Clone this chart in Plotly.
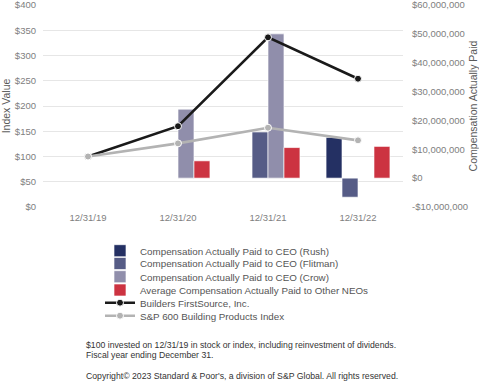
import plotly.graph_objects as go

categories = ["12/31/19", "12/31/20", "12/31/21", "12/31/22"]

cap_rush = [None, None, None, 14.1e6]
cap_flitman = [None, None, 16.0e6, -6.6e6]
cap_crow = [None, 23.9e6, 50.0e6, None]
cap_other_neos = [None, 6.0e6, 10.6e6, 11.0e6]

bldr_index = [100, 160, 336, 254]
sp600_index = [100, 126, 157, 132]

index_tickvals = [0, 50, 100, 150, 200, 250, 300, 350, 400]
index_ticktext = ["$0", "$50", "$100", "$150", "$200", "$250", "$300", "$350", "$400"]
cap_tickvals = [-10e6, 0, 10e6, 20e6, 30e6, 40e6, 50e6, 60e6]
cap_ticktext = ["-$10,000,000", "$0", "$10,000,000", "$20,000,000",
                "$30,000,000", "$40,000,000", "$50,000,000", "$60,000,000"]

bar_names = ["Compensation Actually Paid to CEO (Rush)",
             "Compensation Actually Paid to CEO (Flitman)",
             "Compensation Actually Paid to CEO (Crow)",
             "Average Compensation Actually Paid to Other NEOs"]
bar_values = [cap_rush, cap_flitman, cap_crow, cap_other_neos]
bar_colors = ["#243063", "#565c86", "#908eab", "#cc3341"]

line_names = ["Builders FirstSource, Inc.", "S&P 600 Building Products Index"]
line_values = [bldr_index, sp600_index]
line_colors = ["#1a1a1a", "#b3b3b3"]

footnotes = ["$100 invested on 12/31/19 in stock or index, including reinvestment of dividends.",
             "Fiscal year ending December 31.",
             "Copyright\u00a9 2023 Standard & Poor's, a division of S&P Global. All rights reserved."]

FONT = "Liberation Sans, Arial, sans-serif"
W, H = 479, 381
ML, MR, MT, MB = 43, 76, 5, 174
PW, PH = W - ML - MR, H - MT - MB


def px_x(p):
    return (p - ML) / PW


def px_y(p):
    return (H - MB - p) / PH


fig = go.Figure()
legend_ids = ["legend", "legend2", "legend3", "legend4", "legend5", "legend6"]

for i, (name, vals, col) in enumerate(zip(bar_names, bar_values, bar_colors)):
    fig.add_trace(go.Bar(
        x=categories, y=vals, name=name, yaxis="y",
        marker=dict(color=col, line=dict(color="rgba(255,255,255,0.8)", width=0.8)),
        legend=legend_ids[i], showlegend=True,
    ))

for j, (name, vals, col) in enumerate(zip(line_names, line_values, line_colors)):
    fig.add_trace(go.Scatter(
        x=categories, y=vals, name=name, yaxis="y2", mode="lines+markers",
        line=dict(color=col, width=2.6),
        marker=dict(color=col, size=7, line=dict(color="white", width=1)),
        legend=legend_ids[4 + j], showlegend=True,
    ))

legend_rows_y = [250.7, 263.5, 276.7, 290, 302.7, 315.7]
layout_legends = {}
for k, lid in enumerate(legend_ids):
    layout_legends[lid] = dict(
        x=px_x(100), y=px_y(legend_rows_y[k]),
        xanchor="left", yanchor="middle",
        bgcolor="rgba(0,0,0,0)", borderwidth=0,
        font=dict(family=FONT, size=9.8, color="#555555"),
        itemwidth=30,
    )

annotations = []
foot_y = [345, 355, 376]
for txt, py in zip(footnotes, foot_y):
    annotations.append(dict(
        xref="paper", yref="paper",
        x=px_x(84), y=px_y(py),
        xanchor="left", yanchor="middle", showarrow=False, text=txt,
        font=dict(family=FONT, size=8.7, color="#333333"),
    ))

fig.update_layout(
    width=W, height=H,
    showlegend=True,
    margin=dict(l=ML, r=MR, t=MT, b=MB, autoexpand=False),
    paper_bgcolor="white", plot_bgcolor="white",
    barmode="group", bargap=0.29, bargroupgap=0,
    font=dict(family=FONT, size=9.5, color="#808080"),
    xaxis=dict(type="category", range=[-0.5, 3.5], showgrid=False, zeroline=False,
               showline=False, ticks="", automargin=False, ticklabelstandoff=3,
               tickfont=dict(size=9.5, color="#808080")),
    yaxis=dict(side="right", range=[-10e6, 60e6], tickvals=cap_tickvals, ticktext=cap_ticktext,
               showgrid=False, zeroline=False, showline=False, ticks="", automargin=False,
               ticklabeloverflow="allow", ticklabelstandoff=8,
               tickfont=dict(size=9.5, color="#808080"),
               title=dict(text="Compensation Actually Paid",
                          font=dict(size=10.5, color="#5a5a5a"))),
    yaxis2=dict(side="left", overlaying="y", range=[0, 400], tickvals=index_tickvals,
                ticktext=index_ticktext, showgrid=True, gridcolor="#e6e6e6", gridwidth=1,
                zeroline=False, showline=False, ticks="", automargin=False,
                ticklabeloverflow="allow", ticklabelstandoff=6,
                tickfont=dict(size=9.5, color="#808080"),
                title=dict(text="Index Value",
                           font=dict(size=10.5, color="#5a5a5a"))),
    annotations=annotations,
    **layout_legends,
)

fig.write_html("out.html", post_script="document.body.style.margin='0';",
               config={"displayModeBar": False})
